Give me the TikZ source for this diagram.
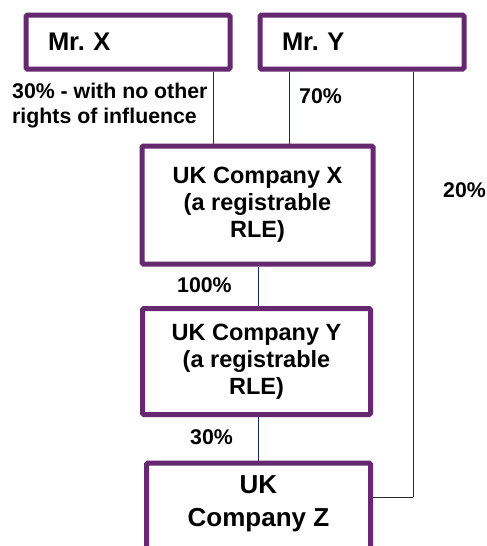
\documentclass[tikz,border=0pt]{standalone}
\usepackage{fontspec}
\setmainfont{Liberation Sans}
\frenchspacing
\definecolor{boxpurple}{RGB}{102,40,110}
\definecolor{linenavy}{RGB}{20,40,110}
\pgfdeclarelayer{bg}
\pgfsetlayers{bg,main}
\tikzset{
  box/.style={draw=boxpurple, line width=5pt, rounded corners=1.5pt, fill=white, inner sep=0pt},
  personbox/.style={box, text width=160pt, inner xsep=22pt, minimum height=54pt, align=left,
    font=\fontsize{25.5}{28}\selectfont\bfseries},
  cobox/.style={box, align=center, font=\fontsize{23.5}{27}\selectfont\bfseries},
  pct/.style={inner sep=0pt, font=\fontsize{21.3}{25}\selectfont\bfseries, align=left},
  conn/.style={draw=linenavy, line width=1pt},
}
\begin{document}
\begin{tikzpicture}[x=1pt,y=-1pt]
\clip (0,0) rectangle (487,546);

\node[personbox] (mx) at (128,42) {Mr. X};
\node[personbox] (my) at (362,42) {Mr. Y};
\node[cobox, minimum width=231pt, minimum height=118pt] (cx) at (257.5,205) {UK Company X\\(a registrable\\RLE)};
\node[cobox, minimum width=228pt, minimum height=106pt] (cy) at (256.5,361.5) {UK Company Y\\(a registrable\\RLE)};
\node[box, minimum width=224pt, minimum height=100pt, anchor=north] (cz) at (258.5,460.5) {};
\node[inner sep=0pt, align=center, font=\fontsize{26}{33}\selectfont\bfseries] (czt) at (258.5,503.5) {UK\\Company Z};

\coordinate (xa) at (213,0);
\coordinate (ya) at (289,0);
\coordinate (yb) at (413,0);
\coordinate (ca) at (258,0);
\coordinate (zc) at (413,497);

\begin{pgfonlayer}{bg}
\fill[white] (0,0) rectangle (487,546);
\draw[conn] (mx.south -| xa) -- (cx.north -| xa);
\draw[conn] (my.south -| ya) -- (cx.north -| ya);
\draw[conn] (my.south -| yb) -- (zc);
\draw[draw=black!85, line width=1pt] (zc) -- (cz.east |- zc);
\draw[conn] (cx.south -| ca) -- (cy.north -| ca);
\draw[conn] (cy.south -| ca) -- (cz.north -| ca);
\end{pgfonlayer}

\node[pct, anchor=west] (l1) at (12,106) {30\% - with no other\\rights of influence};
\node[pct, anchor=west] (l2) at (299,96) {70\%};
\node[pct, anchor=west] (l3) at (177,285) {100\%};
\node[pct, anchor=west] (l4) at (190,437) {30\%};
\node[pct, anchor=west] (l5) at (443,190) {20\%};
\end{tikzpicture}
\end{document}
